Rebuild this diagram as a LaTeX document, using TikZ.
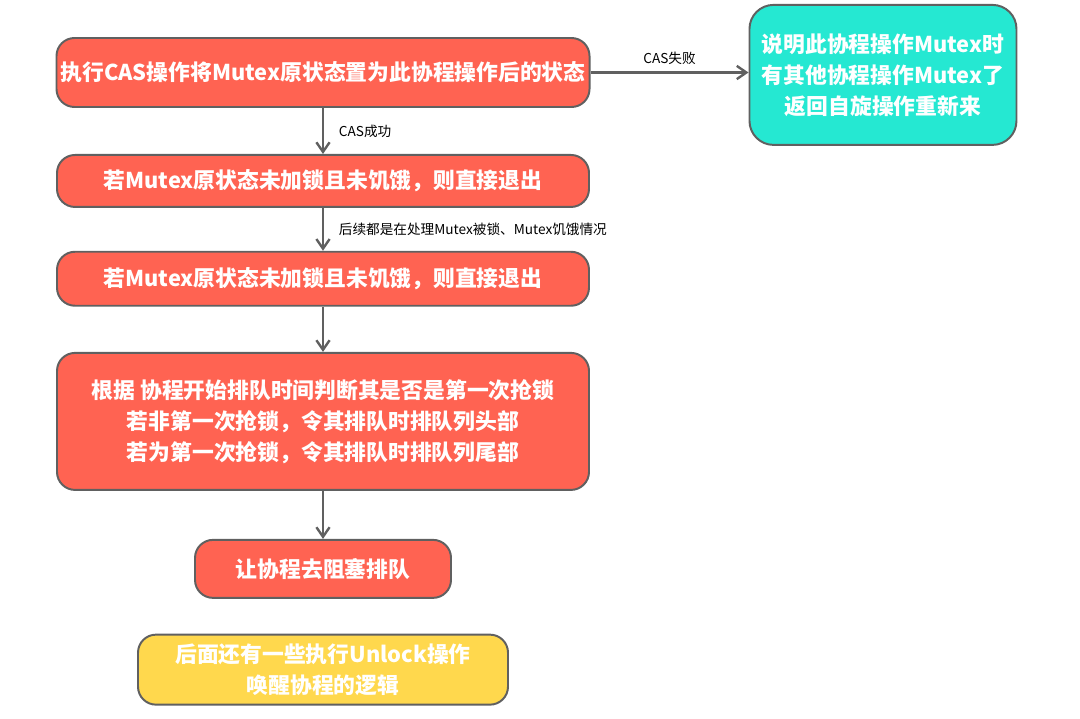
\documentclass[tikz,border=0pt]{standalone}
\usepackage{fontspec}
\setmainfont{Noto Sans CJK SC}
\usepackage{tikz}
\usetikzlibrary{arrows.meta, positioning}
\definecolor{tomato}{HTML}{FF6352}
\definecolor{aqua}{HTML}{25E8D2}
\definecolor{sun}{HTML}{FFD84D}
\definecolor{edgegray}{HTML}{606060}

\begin{document}
\begin{tikzpicture}[
  node distance=1.2cm,
  stepbox/.style={rectangle, draw=edgegray, line width=1.4pt, fill=tomato, rounded corners=0.45cm, minimum width=13.3cm, inner sep=0.1cm, align=center, text=white, font=\fontsize{15.5}{22}\selectfont\bfseries},
  retrybox/.style={stepbox, fill=aqua, rounded corners=0.6cm, minimum width=6.675cm, minimum height=3.5cm},
  notebox/.style={stepbox, fill=sun, minimum width=9.25cm, minimum height=1.75cm},
  edgetext/.style={font=\fontsize{9.7}{11}\selectfont, text=black},
  arrow/.style={-{Straight Barb[length=2.4mm, width=3.3mm]}, line width=1.7pt, edgegray}
]
  \useasboundingbox (0,0) rectangle (27,-17.95);

  \node[stepbox, minimum height=1.725cm] (cas) at (8.075,-1.8125) {执行CAS操作将Mutex原状态置为此协程操作后的状态};
  \node[retrybox, right=3.95cm of cas, yshift=-0.06cm] (retry) {说明此协程操作Mutex时\\有其他协程操作Mutex了\\返回自旋操作重新来};

  \node[stepbox, minimum height=1.3cm, below=1.15cm of cas] (fast) {若Mutex原状态未加锁且未饥饿，则直接退出};
  \node[stepbox, minimum height=1.35cm, below=1.07cm of fast] (check) {若Mutex原状态未加锁且未饥饿，则直接退出};
  \node[stepbox, minimum height=3.425cm, below=1.13cm of check] (queue) {根据 协程开始排队时间判断其是否是第一次抢锁\\若非第一次抢锁，令其排队时排队列头部\\若为第一次抢锁，令其排队时排队列尾部};
  \node[stepbox, minimum width=6.4cm, minimum height=1.45cm, below=1.2cm of queue] (block) {让协程去阻塞排队};

  \node[notebox, below=0.87cm of block] (unlock) {后面还有一些执行Unlock操作\\唤醒协程的逻辑};

  \draw[arrow] (cas.east) -- node[edgetext, above=0.05cm] (failtxt) {CAS失败} (cas.east -| retry.west);
  \draw[arrow] (cas) -- node[edgetext, right=0.25cm] (oktxt) {CAS成功} (fast);
  \draw[arrow] (fast) -- node[edgetext, right=0.25cm] (resttxt) {后续都是在处理Mutex被锁、Mutex饥饿情况} (check);
  \draw[arrow] (check) -- (queue);
  \draw[arrow] (queue) -- (block);
\end{tikzpicture}
\end{document}
